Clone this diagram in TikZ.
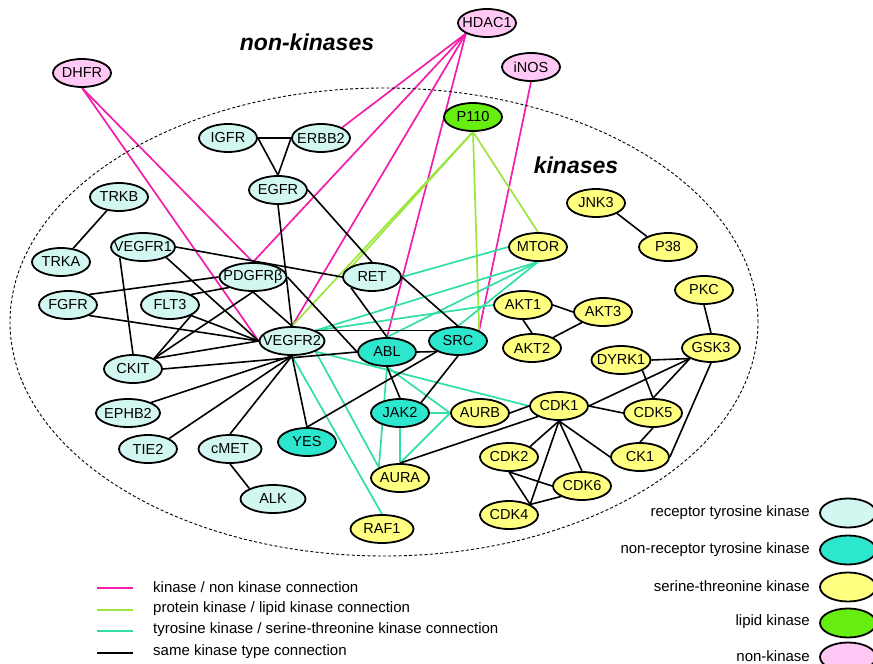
\documentclass[tikz,border=0pt]{standalone}
\usepackage{fontspec}
\setmainfont{Liberation Sans}
\usetikzlibrary{shapes.geometric}
\pgfdeclarelayer{background}
\pgfsetlayers{background,main}
\newcommand{\zw}[1]{\makebox[0pt]{#1}}
\definecolor{rtkc}{HTML}{D2F6F0}
\definecolor{nrtkc}{HTML}{2DE6CE}
\definecolor{stkc}{HTML}{FFFF80}
\definecolor{lipc}{HTML}{66EE11}
\definecolor{nonkc}{HTML}{FFC8F5}
\definecolor{pinkl}{HTML}{F01EAA}
\definecolor{greenl}{HTML}{9AE63C}
\definecolor{cyanl}{HTML}{30E0A0}
\begin{document}
\begin{tikzpicture}[x=1pt,y=-1pt,
  nd/.style={ellipse, draw=black, line width=1.8pt, inner sep=0pt,
    minimum width=58pt, minimum height=28pt, font=\fontsize{14.5}{16}\selectfont},
  rtk/.style={nd, fill=rtkc},
  nrtk/.style={nd, fill=nrtkc},
  stk/.style={nd, fill=stkc},
  lip/.style={nd, fill=lipc},
  nonk/.style={nd, fill=nonkc},
  pk/.style={draw=pinkl, line width=1.7pt},
  gr/.style={draw=greenl, line width=1.7pt},
  cy/.style={draw=cyanl, line width=1.7pt},
  bk/.style={draw=black, line width=1.6pt},
  ttl/.style={font=\bfseries\itshape\fontsize{23}{27}\selectfont},
  lgt/.style={font=\fontsize{15}{17}\selectfont, inner sep=0pt},
  lgn/.style={minimum width=56pt, minimum height=29pt}
]
\useasboundingbox (0,0) rectangle (873,664);
% region
\draw[dashed, dash pattern=on 3pt off 2.2pt, line width=0.9pt] (384,322) ellipse [x radius=374pt, y radius=234pt];
% titles
\node[ttl] (tnon) at (307,42) {non-kinases};
\node[ttl] (tkin) at (576,165) {kinases};
% non-kinases and lipid kinase
\node[nonk] (hdac1) at (487,23) {\zw{HDAC1}};
\node[nonk] (dhfr) at (82,73) {\zw{DHFR}};
\node[nonk] (inos) at (531,67) {\zw{iNOS}};
\node[lip] (p110) at (473,117) {\zw{P110}};
% receptor tyrosine kinases
\node[rtk] (igfr) at (228,138) {\zw{IGFR}};
\node[rtk] (erbb2) at (321,138) {\zw{ERBB2}};
\node[rtk] (egfr) at (278,190) {\zw{EGFR}};
\node[rtk] (trkb) at (119,197) {\zw{TRKB}};
\node[rtk] (trka) at (61,262) {\zw{TRKA}};
\node[rtk, minimum width=64pt] (vegfr1) at (143,247) {\zw{VEGFR1}};
\node[rtk, minimum width=67pt] (pdgfr) at (253,277) {\zw{PDGFRβ}};
\node[rtk] (ret) at (372,277) {\zw{RET}};
\node[rtk] (fgfr) at (68,305) {\zw{FGFR}};
\node[rtk] (flt3) at (170,305) {\zw{FLT3}};
\node[rtk, minimum width=65pt] (vegfr2) at (292,341) {\zw{VEGFR2}};
\node[rtk] (ckit) at (133,369) {\zw{CKIT}};
\node[rtk, minimum width=64pt] (ephb2) at (128,413) {\zw{EPHB2}};
\node[rtk] (tie2) at (148,449) {\zw{TIE2}};
\node[rtk, minimum width=63pt] (cmet) at (230,449) {\zw{cMET}};
\node[rtk, minimum width=65pt] (alk) at (273,499) {\zw{ALK}};
% non-receptor tyrosine kinases
\node[nrtk] (abl) at (387,352) {\zw{ABL}};
\node[nrtk] (src) at (458,341) {\zw{SRC}};
\node[nrtk] (yes) at (307,442) {\zw{YES}};
\node[nrtk] (jak2) at (400,413) {\zw{JAK2}};
% serine-threonine kinases
\node[stk] (mtor) at (538,247) {\zw{MTOR}};
\node[stk] (jnk3) at (596,203) {\zw{JNK3}};
\node[stk] (p38) at (668,247) {\zw{P38}};
\node[stk] (akt1) at (523,305) {\zw{AKT1}};
\node[stk] (akt3) at (603,312) {\zw{AKT3}};
\node[stk] (akt2) at (532,348) {\zw{AKT2}};
\node[stk] (pkc) at (704,290) {\zw{PKC}};
\node[stk] (gsk3) at (711,348) {\zw{GSK3}};
\node[stk, minimum width=59pt] (dyrk1) at (621,360) {\zw{DYRK1}};
\node[stk] (aurb) at (480,413) {\zw{AURB}};
\node[stk] (cdk1) at (559,406) {\zw{CDK1}};
\node[stk] (cdk5) at (653,413) {\zw{CDK5}};
\node[stk] (cdk2) at (509,457) {\zw{CDK2}};
\node[stk] (ck1) at (640,457) {\zw{CK1}};
\node[stk] (aura) at (400,478) {\zw{AURA}};
\node[stk] (cdk6) at (582,486) {\zw{CDK6}};
\node[stk] (cdk4) at (509,515) {\zw{CDK4}};
\node[stk, minimum width=63pt] (raf1) at (382,529) {\zw{RAF1}};
\begin{pgfonlayer}{background}
% kinase / non kinase
\draw[pk] (dhfr.south) -- (pdgfr.north);
\draw[pk] (dhfr.south) -- (vegfr2.west);
\draw[pk] (hdac1.south west) -- (erbb2.north east);
\draw[pk] (hdac1.south west) -- (pdgfr.north);
\draw[pk] (hdac1.south west) -- (vegfr2.north);
\draw[pk] (hdac1.south west) -- (abl.north);
\draw[pk] (inos.south) -- (src.north east);
% protein / lipid kinase
\draw[gr] (p110.south) -- (vegfr2.north);
\draw[gr] (p110.south) -- (ret.west);
\draw[gr] (p110.south) -- (src.north east);
\draw[gr] (p110.south) -- (mtor.north);
% tyrosine / ser-thr
\draw[cy] (mtor.west) -- (ret.east);
\draw[cy] (mtor.south) -- (vegfr2.north east);
\draw[cy] (mtor.south) -- (abl.north);
\draw[cy] (mtor.south) -- (src.north);
\draw[cy] (akt1.west) -- (vegfr2.north east);
\draw[cy] (vegfr2.south east) -- (cdk1.west);
\draw[cy] (vegfr2.south east) -- (aura.north west);
\draw[cy] (vegfr2.south) -- (raf1.north);
\draw[cy] (abl.south) -- (aura.north west);
\draw[cy] (abl.south) -- (aurb.west);
\draw[cy] (jak2.east) -- (aurb.west);
\draw[cy] (jak2.south) -- (aura.north);
\draw[cy] (aura.north) -- (aurb.west);
% same kinase type
\draw[bk] (igfr.east) -- (erbb2.west);
\draw[bk] (igfr.east) -- (egfr.north);
\draw[bk] (erbb2.west) -- (egfr.north);
\draw[bk] (egfr.south) -- (vegfr2.north);
\draw[bk] (egfr.east) -- (ret.north);
\draw[bk] (trkb) -- (trka);
\draw[bk] (vegfr1.east) -- (ret.west);
\draw[bk] (vegfr1.south west) -- (ckit.north);
\draw[bk] (vegfr1.south east) -- (vegfr2.west);
\draw[bk] (fgfr.north east) -- (pdgfr.west);
\draw[bk] (fgfr.south east) -- (vegfr2.west);
\draw[bk] (flt3.north east) -- (pdgfr.south west);
\draw[bk] (flt3.south east) -- (vegfr2.west);
\draw[bk] (flt3.south east) -- (ckit.north east);
\draw[bk] (pdgfr.south) -- (ckit.north east);
\draw[bk] (pdgfr.south) -- (vegfr2.north);
\draw[bk] (pdgfr.east) -- (abl.west);
\draw[bk] (ckit.north east) -- (vegfr2.west);
\draw[bk] (ckit.east) -- (abl.west);
\draw[bk] (vegfr2.south) -- (ephb2.north east);
\draw[bk] (vegfr2.south) -- (tie2.north east);
\draw[bk] (vegfr2.south) -- (cmet.north);
\draw[bk] (vegfr2.south) -- (yes.north);
\draw[bk] (cmet.south) -- (alk.north west);
\draw[bk] (vegfr2.north east) -- (src.north west);
\draw[bk] (ret.south west) -- (abl.north);
\draw[bk] (ret.east) -- (src.north);
\draw[bk] (abl.east) -- (src.south west);
\draw[bk] (abl.south) -- (jak2.north);
\draw[bk] (src.south) -- (jak2.north east);
\draw[bk] (src.south west) -- (yes.north);
\draw[bk] (aurb.east) -- (cdk1.west);
\draw[bk] (aura.north) -- (cdk1.south west);
\draw[bk] (cdk1.south) -- (cdk2.north east);
\draw[bk] (cdk1.south) -- (cdk4.north east);
\draw[bk] (cdk1.south) -- (cdk6.north);
\draw[bk] (cdk1.south) -- (ck1.west);
\draw[bk] (cdk1.east) -- (cdk5.west);
\draw[bk] (cdk1.east) -- (gsk3.south west);
\draw[bk] (cdk2.south) -- (cdk4.north east);
\draw[bk] (cdk2.south) -- (cdk6.west);
\draw[bk] (cdk4.north east) -- (cdk6.south west);
\draw[bk] (cdk5.south) -- (ck1.north);
\draw[bk] (dyrk1.south east) -- (cdk5.north);
\draw[bk] (gsk3.south west) -- (cdk5.north);
\draw[bk] (dyrk1.east) -- (gsk3.south west);
\draw[bk] (gsk3.south) -- (ck1.east);
\draw[bk] (pkc.south) -- (gsk3.north);
\draw[bk] (akt1.east) -- (akt3.west);
\draw[bk] (akt1.south) -- (akt2.north);
\draw[bk] (akt2.north east) -- (akt3.south west);
\draw[bk] (jnk3.south east) -- (p38.north west);
\end{pgfonlayer}
% legend: connections
\coordinate (l1a) at (97,588); \coordinate (l1b) at (133,588);
\coordinate (l2a) at (97,610); \coordinate (l2b) at (133,610);
\coordinate (l3a) at (97,631); \coordinate (l3b) at (133,631);
\coordinate (l4a) at (97,653); \coordinate (l4b) at (133,653);
\draw[pk] (l1a) -- (l1b);
\draw[gr] (l2a) -- (l2b);
\draw[cy] (l3a) -- (l3b);
\draw[bk] (l4a) -- (l4b);
\node[lgt, anchor=west] (lt1) at (153,587) {kinase / non kinase connection};
\node[lgt, anchor=west] (lt2) at (153,609) {protein kinase / lipid kinase connection};
\node[lgt, anchor=west] (lt3) at (153,630) {tyrosine kinase / serine-threonine kinase connection};
\node[lgt, anchor=west] (lt4) at (153,652) {same kinase type connection};
% legend: node types
\node[rtk, lgn] (lg1) at (848,513) {};
\node[nrtk, lgn] (lg2) at (848,550) {};
\node[stk, lgn] (lg3) at (848,587) {};
\node[lip, lgn] (lg4) at (848,623) {};
\node[nonk, lgn] (lg5) at (848,657) {};
\node[lgt, anchor=east] (lr1) at (810,513) {receptor tyrosine kinase};
\node[lgt, anchor=east] (lr2) at (810,550) {non-receptor tyrosine kinase};
\node[lgt, anchor=east] (lr3) at (810,586) {serine-threonine kinase};
\node[lgt, anchor=east] (lr4) at (810,622) {lipid kinase};
\node[lgt, anchor=east] (lr5) at (810,656) {non-kinase};
\end{tikzpicture}
\end{document}
